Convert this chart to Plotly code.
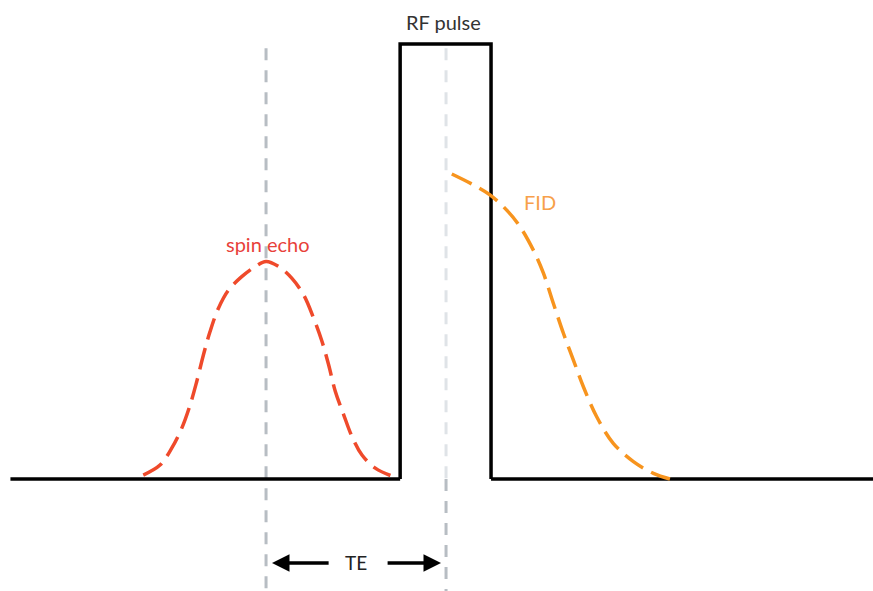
import plotly.graph_objects as go

# ---- data (time in arbitrary units, amplitude 0..10) ----
baseline_left_t = [-14.2, 7.45]
baseline_right_t = [12.5, 33.8]
baseline_amp = [0, 0]

pulse_t = [7.45, 7.45, 12.5, 12.5]
pulse_amp = [0, 10, 10, 0]

echo_t = [-6.82, -5.89, -5.24, -4.68, -4.22, -3.85, -3.48, -3.11, -2.65, -2.09, -1.35, -0.61, 0.0,
          0.71, 1.44, 2.09, 2.65, 3.11, 3.48, 3.85, 4.32, 4.78, 5.33, 6.07, 6.91]
echo_amp = [0.09, 0.32, 0.71, 1.17, 1.70, 2.24, 2.85, 3.39, 3.92, 4.34, 4.65, 4.88, 5.0,
            4.88, 4.61, 4.23, 3.69, 3.16, 2.62, 2.01, 1.47, 0.97, 0.55, 0.25, 0.08]

fid_t = [10.32, 11.52, 12.44, 13.37, 14.11, 14.85, 15.41, 15.96, 16.52, 17.07,
         17.63, 18.37, 19.29, 20.41, 21.52, 22.44]
fid_amp = [7.01, 6.76, 6.53, 6.18, 5.80, 5.26, 4.73, 4.04, 3.35, 2.74,
           2.12, 1.43, 0.82, 0.40, 0.13, 0.0]

echo_time = 0.0
pulse_time = 10.0
guide_top = 9.9
guide_bottom = -2.6
te_level = -1.93

labels = {"rf": "RF pulse", "echo": "spin echo", "fid": "FID", "te": "TE"}

X_RANGE = [-14.78, 33.72]
Y_RANGE = [-2.575, 11.01]

FONT = "Lato, 'Open Sans', sans-serif"

fig = go.Figure()

# guide lines
fig.add_trace(go.Scatter(x=[echo_time, echo_time], y=[guide_top, guide_bottom], mode="lines",
                         line=dict(color="#b7bdc3", width=3, dash="12px,10px"), hoverinfo="skip"))
fig.add_trace(go.Scatter(x=[pulse_time, pulse_time], y=[guide_top, 0], mode="lines",
                         line=dict(color="#dfe3e7", width=3, dash="12px,10px"), hoverinfo="skip"))
fig.add_trace(go.Scatter(x=[pulse_time, pulse_time], y=[0, guide_bottom], mode="lines",
                         line=dict(color="#b7bdc3", width=3, dash="12px,10px"), hoverinfo="skip"))

# baseline and pulse
fig.add_trace(go.Scatter(x=baseline_left_t, y=baseline_amp, mode="lines",
                         line=dict(color="black", width=3.5), hoverinfo="skip"))
fig.add_trace(go.Scatter(x=baseline_right_t, y=baseline_amp, mode="lines",
                         line=dict(color="black", width=3.5), hoverinfo="skip"))
fig.add_trace(go.Scatter(x=pulse_t, y=pulse_amp, mode="lines",
                         line=dict(color="black", width=3.5), hoverinfo="skip"))

# spin echo and FID
fig.add_trace(go.Scatter(x=echo_t, y=echo_amp, mode="lines",
                         line=dict(color="#ef4a2b", width=3.5, dash="22px,9px", shape="spline",
                                   smoothing=1.0),
                         hoverinfo="skip"))
fig.add_trace(go.Scatter(x=fid_t, y=fid_amp, mode="lines",
                         line=dict(color="#f7941e", width=3.5, dash="22px,9px", shape="spline"),
                         hoverinfo="skip"))

# labels
fig.add_annotation(x=9.85, y=10.5, text=labels["rf"], showarrow=False,
                   font=dict(family=FONT, size=20, color="#333333"), yanchor="middle")
fig.add_annotation(x=0.1, y=5.40, text=labels["echo"], showarrow=False,
                   font=dict(family=FONT, size=20, color="#e8413a"), yanchor="middle")
fig.add_annotation(x=15.22, y=6.37, text=labels["fid"], showarrow=False,
                   font=dict(family=FONT, size=20, color="#f7a04a"), yanchor="middle")
fig.add_annotation(x=5.0, y=te_level, text=labels["te"], showarrow=False,
                   font=dict(family=FONT, size=19, color="#222222"), yanchor="middle")

# TE arrows
fig.add_annotation(x=0.33, y=te_level, ax=3.56, ay=te_level, axref="x", ayref="y",
                   xref="x", yref="y", text="", showarrow=True, arrowhead=2,
                   arrowsize=1, arrowwidth=3.5, arrowcolor="black", standoff=0)
fig.add_annotation(x=9.72, y=te_level, ax=6.67, ay=te_level, axref="x", ayref="y",
                   xref="x", yref="y", text="", showarrow=True, arrowhead=2,
                   arrowsize=1, arrowwidth=3.5, arrowcolor="black", standoff=0)

fig.update_layout(
    width=873, height=591,
    margin=dict(l=0, r=0, t=0, b=0),
    paper_bgcolor="white", plot_bgcolor="white",
    showlegend=False,
    xaxis=dict(range=X_RANGE, visible=False, fixedrange=True),
    yaxis=dict(range=Y_RANGE, visible=False, fixedrange=True),
)

fig.write_html(
    "out.html",
    config={"displayModeBar": False},
    post_script="document.body.style.margin='0';document.documentElement.style.overflow='hidden';document.body.style.overflow='hidden';",
)
